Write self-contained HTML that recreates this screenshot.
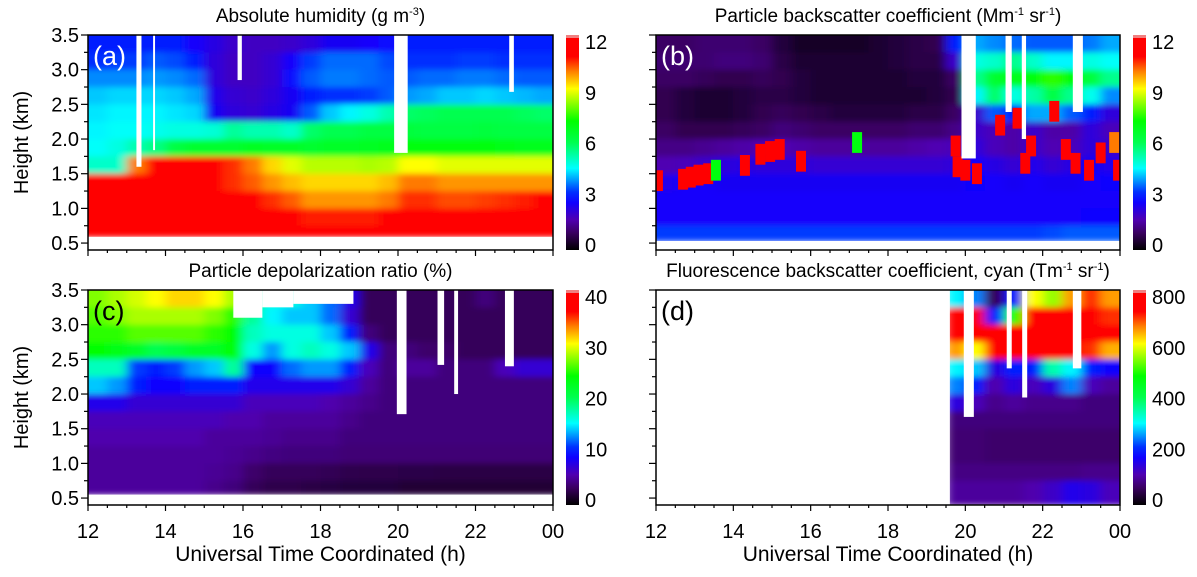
<!DOCTYPE html>
<html><head><meta charset="utf-8">
<style>
html,body{margin:0;padding:0;background:#fff;}
svg{display:block;font-family:"Liberation Sans",Arial,sans-serif;}
</style></head>
<body>
<svg id="fig" width="1197" height="577" viewBox="0 0 1197 577">
<defs>
<linearGradient id="cmap" x1="0" y1="1" x2="0" y2="0">
<stop offset="0" stop-color="#000000"/><stop offset="0.08" stop-color="#3a0060"/>
<stop offset="0.14" stop-color="#5000b0"/><stop offset="0.22" stop-color="#1000ff"/>
<stop offset="0.27" stop-color="#0030ff"/><stop offset="0.32" stop-color="#0090ff"/>
<stop offset="0.38" stop-color="#00ffff"/>
<stop offset="0.50" stop-color="#00ff50"/><stop offset="0.60" stop-color="#00ff00"/>
<stop offset="0.75" stop-color="#ffff00"/><stop offset="0.83" stop-color="#ff8000"/>
<stop offset="0.90" stop-color="#ff0000"/><stop offset="1" stop-color="#ff0000"/>
</linearGradient>
<filter id="soft" x="-5%" y="-5%" width="110%" height="110%"><feGaussianBlur stdDeviation="5 3" edgeMode="duplicate"/></filter>
</defs>
<g id="root"></g>
</svg>
<script>
// time columns: 12.0..23.5 step 0.5 h ; height rows (top->bottom) 3.25-3.5 ... 0.5-0.75 km
const hours = [12,12.5,13,13.5,14,14.5,15,15.5,16,16.5,17,17.5,18,18.5,19,19.5,20,20.5,21,21.5,22,22.5,23,23.5];
const rowTops = [3.5,3.25,3.0,2.75,2.5,2.25,2.0,1.75,1.5,1.25,1.0,0.75];
const xTickLabels = ["12","14","16","18","20","22","00"];
const yTickLabels = ["0.5","1.0","1.5","2.0","2.5","3.0","3.5"];

const humidity = [
[3,3,3,3,3,2.6,2.3,2,1.9,1.9,2,2.2,2.5,2.5,2.6,2.8,3,3,3,3,3,3,3,3],
[3.2,3.3,3.3,3.5,3.4,3,2.2,1.9,1.9,2.1,2.6,3.3,3.6,3.6,3.6,3.4,3.2,3.2,3.2,3.3,3.3,3.2,3.2,3.2],
[3.8,3.8,3.8,3.9,3.8,3.6,2.2,1.9,1.9,2.1,2.8,3.5,3.7,3.7,3.6,3.5,3.5,3.6,3.6,3.7,3.7,3.6,3.5,3.5],
[4.2,4.3,4.3,4.3,4.2,4,2.4,2.1,2,2.2,2.5,3,3.2,3.2,3.3,3.5,3.9,4,4.2,4.2,4.3,4.2,4.1,4],
[4.4,4.5,4.5,4.5,4.4,4.3,2.5,2.2,2.1,2.3,2.5,3.5,4.2,4.5,4.8,5.2,5.8,5.9,6,6,6,6,5.9,5.8],
[4.5,4.6,4.6,4.7,4.8,4.8,4.9,5.4,5.2,5.2,5,5.8,6,6,6.2,6.2,6.3,6.2,6.2,6.2,6.3,6.2,6.2,6.2],
[4.6,4.8,5.2,5.6,6.2,6.5,6.5,6.5,6.7,6.6,6.6,6.5,6.6,6.6,6.7,6.8,7,7,7,7,7,6.9,6.8,6.8],
[5,5,10,11,11,11,10.8,10.5,10,9.3,8.8,8.5,8.5,8.5,8.4,8.5,9,9,8.8,8.8,8.8,8.8,8.8,8.8],
[11,11.5,11.5,11.5,11.5,11.3,10.8,10.5,10.2,9.8,9.5,9.3,9.3,9.3,9.3,9.5,10,10,9.8,9.8,9.8,9.8,9.8,9.8],
[12,12,12,12,11.8,11.5,11.2,11,10.8,10.5,10.2,9.8,9.8,9.8,9.8,10,10.5,10.5,10.3,10.3,10.4,10.5,10.6,10.8],
[12,12,12,12,12,11.8,11.3,11.2,11.2,11,10.8,10.6,10.6,10.6,10.6,10.8,11,11,11,11,11,11.2,11.5,11.8],
[12,12,12,12,12,12,11.8,11.5,11.5,11.3,11.2,11,11,11,11,11,11.3,11.3,11.3,11.5,11.5,11.8,12,12]];

const backscatter = [
[1,1,1.1,1.1,1.1,1,0.6,0.4,0.4,0.4,0.4,0.5,0.6,0.7,0.8,3,4,3.8,3.6,3.5,3.5,3.5,3.7,4],
[1.1,1.1,1.1,1.2,1.2,1.1,0.7,0.5,0.5,0.5,0.5,0.5,0.6,0.7,0.7,2,4.8,5,5.5,5,4.5,4.5,4.8,4.6],
[1,1,0.9,0.8,0.8,0.9,0.8,0.6,0.5,0.5,0.5,0.5,0.5,0.6,0.6,1,5.5,6.5,6.8,7,7.5,7,6.3,5.5],
[0.8,0.6,0.5,0.5,0.6,0.7,0.7,0.6,0.5,0.5,0.5,0.5,0.5,0.5,0.6,0.8,4.5,5.8,4.8,5.3,6.2,5.5,4.7,3.8],
[0.8,0.6,0.5,0.5,0.6,0.8,0.9,0.8,0.7,0.6,0.6,0.6,0.6,0.7,0.7,1,2,3.5,3,4,4,3.5,3,2.2],
[1,0.8,0.8,0.8,0.9,1,1.2,1.1,1,1,1,1,1,1.1,1.1,1.3,2,1.8,1.6,2,1.6,1.6,2.2,1.8],
[1.3,1.3,1.4,1.5,1.6,1.7,1.7,1.6,1.5,1.5,1.5,1.5,1.5,1.6,1.7,1.8,2.2,1.8,1.6,2,1.7,1.8,2.2,2],
[1.7,1.8,2,2.2,2.3,2.2,2.2,2.2,2.1,2.1,2.1,2.1,2.1,2.1,2.1,2.2,2.6,2.3,2.1,2.4,2.1,2.3,2.5,2.4],
[2.4,2.6,2.6,2.5,2.5,2.5,2.5,2.5,2.5,2.5,2.5,2.5,2.5,2.5,2.5,2.5,2.7,2.6,2.5,2.6,2.5,2.5,2.6,2.7],
[2.6,2.6,2.6,2.6,2.6,2.6,2.6,2.6,2.6,2.6,2.6,2.6,2.6,2.6,2.6,2.6,2.6,2.6,2.6,2.6,2.6,2.6,2.6,2.6],
[2.6,2.6,2.6,2.6,2.6,2.6,2.6,2.6,2.6,2.6,2.6,2.6,2.6,2.6,2.6,2.6,2.6,2.6,2.6,2.6,2.6,2.6,2.7,2.7],
[3.3,3.3,3.3,3.3,3.3,3.3,3.3,3.3,3.3,3.3,3.3,3.3,3.3,3.3,3.3,3.3,3.3,3.3,3.3,3.3,3.4,3.5,3.5,3.5]];
// aerosol / cloud spots in panel b: hour, km, value
const spotHours = [12.05,12.7,12.9,13.1,13.35,13.55,14.3,14.7,14.95,15.2,15.75,17.2,19.8,20.0,20.3,20.9,21.35,21.55,21.7,22.3,22.6,22.85,23.2,23.5,23.85,23.95,19.75];
const spotKm =    [1.40,1.42,1.45,1.48,1.50,1.55,1.62,1.78,1.82,1.85,1.68,1.95,1.60,1.55,1.50,2.20,2.30,1.65,1.90,2.40,1.85,1.65,1.55,1.80,1.95,1.55,1.9];
const spotVal =   [12,12,12,12,12,7,12,12,12,12,12,7,12,12,12,12,12,12,12,12,12,12,12,12,10,12,12];

const depol = [
[27,28,29,30,31,31,30,28,20,16,16,14,12,8,3,3,3,3,3,3,4,3,3,3],
[26,27,28,28,28,28,27,25,18,15,14,14,12,7,3,3,3,3,3,3,3,3,3,3],
[25,25,26,26,26,26,25,24,17,16,16,16,14,10,4,3,3,3,3,3,3,3,3,3],
[24,23,22,20,21,22,22,24,16,13,16,17,16,14,8,4,4,3.5,3.5,3,3,3,3,3],
[17,17,11,10,11,13,14,18,9,9,12,13,13,10,6,4,5,5,4,4,4,6,7,7],
[14,13,10,9,9,10,10,10,8,8,8,8,8,7,5,4,4,4,4,4,4,4,4,4],
[8,8,7,7,7,7,7,7,6,6,6,6,5.5,5,4.5,4,4,4,4,4,4,4,4,4],
[6,6,6,6,6,6,6,5.5,5.5,5,5,5,5,4.5,4,4,4,4,4,4,4,4,4,4],
[5.5,5.5,5.5,5.5,5.5,5.5,5,5,5,4.8,4.5,4.5,4.5,4,4,4,4,4,4,4,4,4,4,4],
[5,5,5,5,5,5,5,4.8,4.5,4.2,4,4,4,3.8,3.8,3.8,3.8,3.8,3.8,3.8,3.8,3.8,3.8,3.8],
[5,5,5,5,5,5,4.8,4.5,3.5,3,3,3,2.8,2.6,2.5,2.5,2.4,2.4,2.3,2.3,2.3,2.3,2.3,2.3],
[5,5,5,5,5,5,4.5,4,3,2.5,2.5,2.3,2.2,2,2,2,1.8,1.8,1.8,1.8,1.8,1.8,1.8,1.8]];

const N = null;
const fluor = [
[N,N,N,N,N,N,N,N,N,N,N,N,N,N,N,300,250,60,200,600,550,650,700,650],
[N,N,N,N,N,N,N,N,N,N,N,N,N,N,N,800,800,200,500,800,800,800,800,700],
[N,N,N,N,N,N,N,N,N,N,N,N,N,N,N,800,800,800,800,800,800,800,800,800],
[N,N,N,N,N,N,N,N,N,N,N,N,N,N,N,650,600,760,760,760,760,760,700,640],
[N,N,N,N,N,N,N,N,N,N,N,N,N,N,N,300,280,150,200,200,350,300,200,180],
[N,N,N,N,N,N,N,N,N,N,N,N,N,N,N,250,200,110,150,120,150,250,120,100],
[N,N,N,N,N,N,N,N,N,N,N,N,N,N,N,150,120,90,100,90,90,90,80,80],
[N,N,N,N,N,N,N,N,N,N,N,N,N,N,N,80,80,80,80,80,80,80,80,80],
[N,N,N,N,N,N,N,N,N,N,N,N,N,N,N,75,75,70,70,70,70,70,70,70],
[N,N,N,N,N,N,N,N,N,N,N,N,N,N,N,75,75,70,70,70,70,70,70,70],
[N,N,N,N,N,N,N,N,N,N,N,N,N,N,N,85,85,85,85,85,85,85,90,90],
[N,N,N,N,N,N,N,N,N,N,N,N,N,N,N,100,100,100,100,110,130,160,150,120]];

// white data gaps: [start h, end h, bottom km]
const gapsA = [[13.25,13.38,1.6],[13.68,13.73,1.84],[15.86,15.97,2.85],[19.9,20.25,1.8],[22.87,22.99,2.68]];
const gapsB = [[19.9,20.27,1.72],[21.04,21.2,2.39],[21.46,21.57,2.0],[22.78,23.04,2.39]];
const gapsC = [[15.75,16.5,3.1],[16.5,17.3,3.25],[17.3,18.85,3.3],[19.97,20.22,1.71],[21.02,21.19,2.42],[21.45,21.55,2.0],[22.76,22.99,2.4]];
const gapsD = [[12,19.6,0],[19.96,20.22,1.67],[21.07,21.2,2.37],[21.47,21.6,1.95],[22.78,23.0,2.37]];

const cbA = ["0","3","6","9","12"], cbB = ["0","3","6","9","12"], cbC = ["0","10","20","30","40"], cbD = ["0","200","400","600","800"];

const stops = [[0,[0,0,0]],[0.08,[58,0,96]],[0.14,[80,0,176]],[0.22,[16,0,255]],[0.27,[0,48,255]],[0.32,[0,144,255]],[0.38,[0,255,255]],[0.5,[0,255,80]],[0.6,[0,255,0]],[0.75,[255,255,0]],[0.83,[255,128,0]],[0.9,[255,0,0]],[1,[255,0,0]]];
function cmap(t){t=Math.max(0,Math.min(1,t));for(let i=1;i<stops.length;i++){if(t<=stops[i][0]){const a=stops[i-1],b=stops[i];const f=(t-a[0])/(b[0]-a[0]||1);const c=a[1].map((v,k)=>Math.round(v+(b[1][k]-v)*f));return `rgb(${c[0]},${c[1]},${c[2]})`;}}return "rgb(255,0,0)";}

const NS="http://www.w3.org/2000/svg";
const root=document.getElementById('root');
function el(tag,attrs,parent){const e=document.createElementNS(NS,tag);for(const k in attrs)e.setAttribute(k,attrs[k]);(parent||root).appendChild(e);return e;}

function panel(cfg){
  const {x0,y0,w,h,data,vmax,floor,gaps,title,letter,letterColor,cb,showYLabels,showXLabels,id,spots}=cfg;
  const xs=t=>x0+(t-12)/12*w;
  const ys=km=>y0+(3.5-km)/3.1*h;
  const g=el('g',{});
  
  
  const clip=el('clipPath',{id:'clip-'+id},g);
  el('rect',{x:x0,y:y0,width:w,height:h},clip);
  const hm=el('g',{'clip-path':`url(#clip-${id})`},g);
  
  
  const inner=el('g',{filter:'url(#soft)'},hm);
  data.forEach((row,r)=>{row.forEach((v,c)=>{
    if(v===null)return;
    const top=rowTops[r];
    const bot=(r===rowTops.length-1)?Math.max(floor,0.4):rowTops[r+1];
    const xa=xs(hours[c])-(c===0?12:0), xb=xs(hours[c]+0.5)+(c===hours.length-1?12:0)+0.5;
    const ya=ys(top)-(r===0?10:0), yb=ys(bot)+0.5;
    const rc=el('rect',{x:xa,y:ya,width:xb-xa,height:yb-ya,fill:cmap(v/vmax)},inner);
    
    
  });});
  if(spots){spots.h.forEach((hh,i)=>{
    const sp=el('rect',{x:xs(hh)-5,y:ys(spots.k[i]+0.15),width:10,height:ys(0)-ys(0.3),fill:cmap(spots.v[i]/vmax)},hm);
    
    
  });}
  el('rect',{x:x0,y:ys(floor),width:w,height:y0+h-ys(floor)+1,fill:'#fff'},hm);
  gaps.forEach(gp=>{
    const gr=el('rect',{x:xs(gp[0]),y:y0,width:xs(gp[1])-xs(gp[0]),height:ys(gp[2])-y0,fill:'#ffffff'},hm);
    
    
  });
  el('rect',{x:x0,y:y0,width:w,height:h,fill:'none',stroke:'#000','stroke-width':1.5},g);
  for(let k=0;k<=12;k++){const km=0.5+k*0.25;const y=ys(km);const major=k%2===0;
    el('line',{x1:x0-(major?7:4),x2:x0,y1:y,y2:y,stroke:'#000','stroke-width':1.2},g);
    if(major&&showYLabels){const t=el('text',{x:x0-9,y:y+7,'text-anchor':'end','font-size':20},g);t.textContent=yTickLabels[k/2];
      }}
  for(let k=0;k<=24;k++){const t0=12+k*0.5;const x=xs(t0);const major=k%4===0;
    el('line',{x1:x,x2:x,y1:y0+h,y2:y0+h+(major?6:3),stroke:'#000','stroke-width':1.2},g);
    if(major&&showXLabels){const t=el('text',{x:x,y:y0+h+33,'text-anchor':'middle','font-size':20},g);t.textContent=xTickLabels[k/4];
      }}
  const tt=el('text',{x:x0+w/2,y:y0-13,'text-anchor':'middle','font-size':19},g);tt.innerHTML=title;
  
  const lt=el('text',{x:x0+5,y:y0+30,'font-size':27,fill:letterColor},g);lt.textContent=letter;
  
  if(showYLabels){const yl=el('text',{x:0,y:0,'text-anchor':'middle','font-size':20,transform:`translate(28,${y0+h/2}) rotate(-90)`},g);yl.textContent='Height (km)';
    }
  if(showXLabels){const xl=el('text',{x:x0+w/2,y:y0+h+56,'text-anchor':'middle','font-size':21},g);xl.textContent='Universal Time Coordinated (h)';
    }
  const cx=x0+w+13;
  const cbg=el('g',{},g);
  
  
  el('rect',{x:cx,y:y0,width:13,height:h,fill:'url(#cmap)'},cbg);
  el('rect',{x:cx,y:y0,width:13,height:3,fill:'#f08080'},cbg);
  cb.forEach((lab,i)=>{const y=y0+h-5-i*(h-12)/4;const t=el('text',{x:cx+19,y:y+7,'font-size':20},cbg);t.textContent=lab;
    });
}

panel({id:'a',x0:88,y0:35,w:465,h:215,data:humidity,vmax:12,floor:0.59,gaps:gapsA,title:'Absolute humidity (g m<tspan font-size="11" dy="-7">-3</tspan><tspan dy="7">)</tspan>',letter:'(a)',letterColor:'#fff',cb:cbA,showYLabels:true,showXLabels:false});
panel({id:'b',x0:656,y0:35,w:464,h:215,data:backscatter,vmax:12,floor:0.53,gaps:gapsB,title:'Particle backscatter coefficient (Mm<tspan font-size="11" dy="-7">-1</tspan><tspan dy="7"> sr</tspan><tspan font-size="11" dy="-7">-1</tspan><tspan dy="7">)</tspan>',letter:'(b)',letterColor:'#fff',cb:cbB,showYLabels:false,showXLabels:false,spots:{h:spotHours,k:spotKm,v:spotVal}});
panel({id:'c',x0:88,y0:290,w:465,h:215,data:depol,vmax:40,floor:0.55,gaps:gapsC,title:'Particle depolarization ratio (%)',letter:'(c)',letterColor:'#000',cb:cbC,showYLabels:true,showXLabels:true});
panel({id:'d',x0:656,y0:290,w:464,h:215,data:fluor,vmax:800,floor:0.4,gaps:gapsD,title:'Fluorescence backscatter coefficient, cyan (Tm<tspan font-size="11" dy="-7">-1</tspan><tspan dy="7"> sr</tspan><tspan font-size="11" dy="-7">-1</tspan><tspan dy="7">)</tspan>',letter:'(d)',letterColor:'#000',cb:cbD,showYLabels:false,showXLabels:true});
</script>
</body></html>
